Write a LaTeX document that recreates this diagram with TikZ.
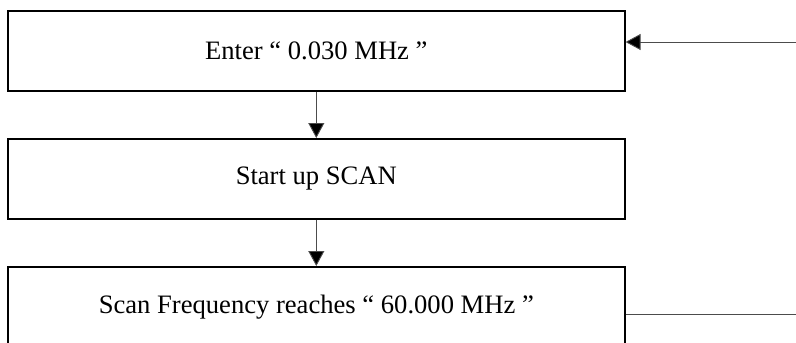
\documentclass[tikz,border=0pt]{standalone}
\usepackage{fontspec}
\setmainfont{Liberation Serif}
\usetikzlibrary{arrows.meta}
\begin{document}
\begin{tikzpicture}[x=1pt,y=-1pt,
  box/.style={draw=black, line width=1.6pt, minimum width=617pt, minimum height=80pt, inner sep=0pt,
    font=\fontsize{26.6}{30}\selectfont, anchor=north west},
  conn/.style={draw=black!70, line width=0.9pt},
  arr/.style={conn, -{Triangle[length=15pt,width=16pt,fill=black]}}]
\clip (0,0) rectangle (796,343);
\useasboundingbox (0,0) rectangle (796,343);
\node[box] (b1) at (7,10) {Enter “ 0.030 MHz ”};
\node[box] (b2) at (7,138) {Start up SCAN};
\node[box] (b3) at (7,266) {Scan Frequency reaches “ 60.000 MHz ”};
\coordinate (in) at (796,42);
\coordinate (out) at (796,314);
\draw[arr] (b1.south) -- (b2.north);
\draw[arr] (b2.south) -- (b3.north);
\draw[arr] (in) -- (in -| b1.east);
\draw[conn] (out -| b3.east) -- (out);
\end{tikzpicture}
\end{document}
